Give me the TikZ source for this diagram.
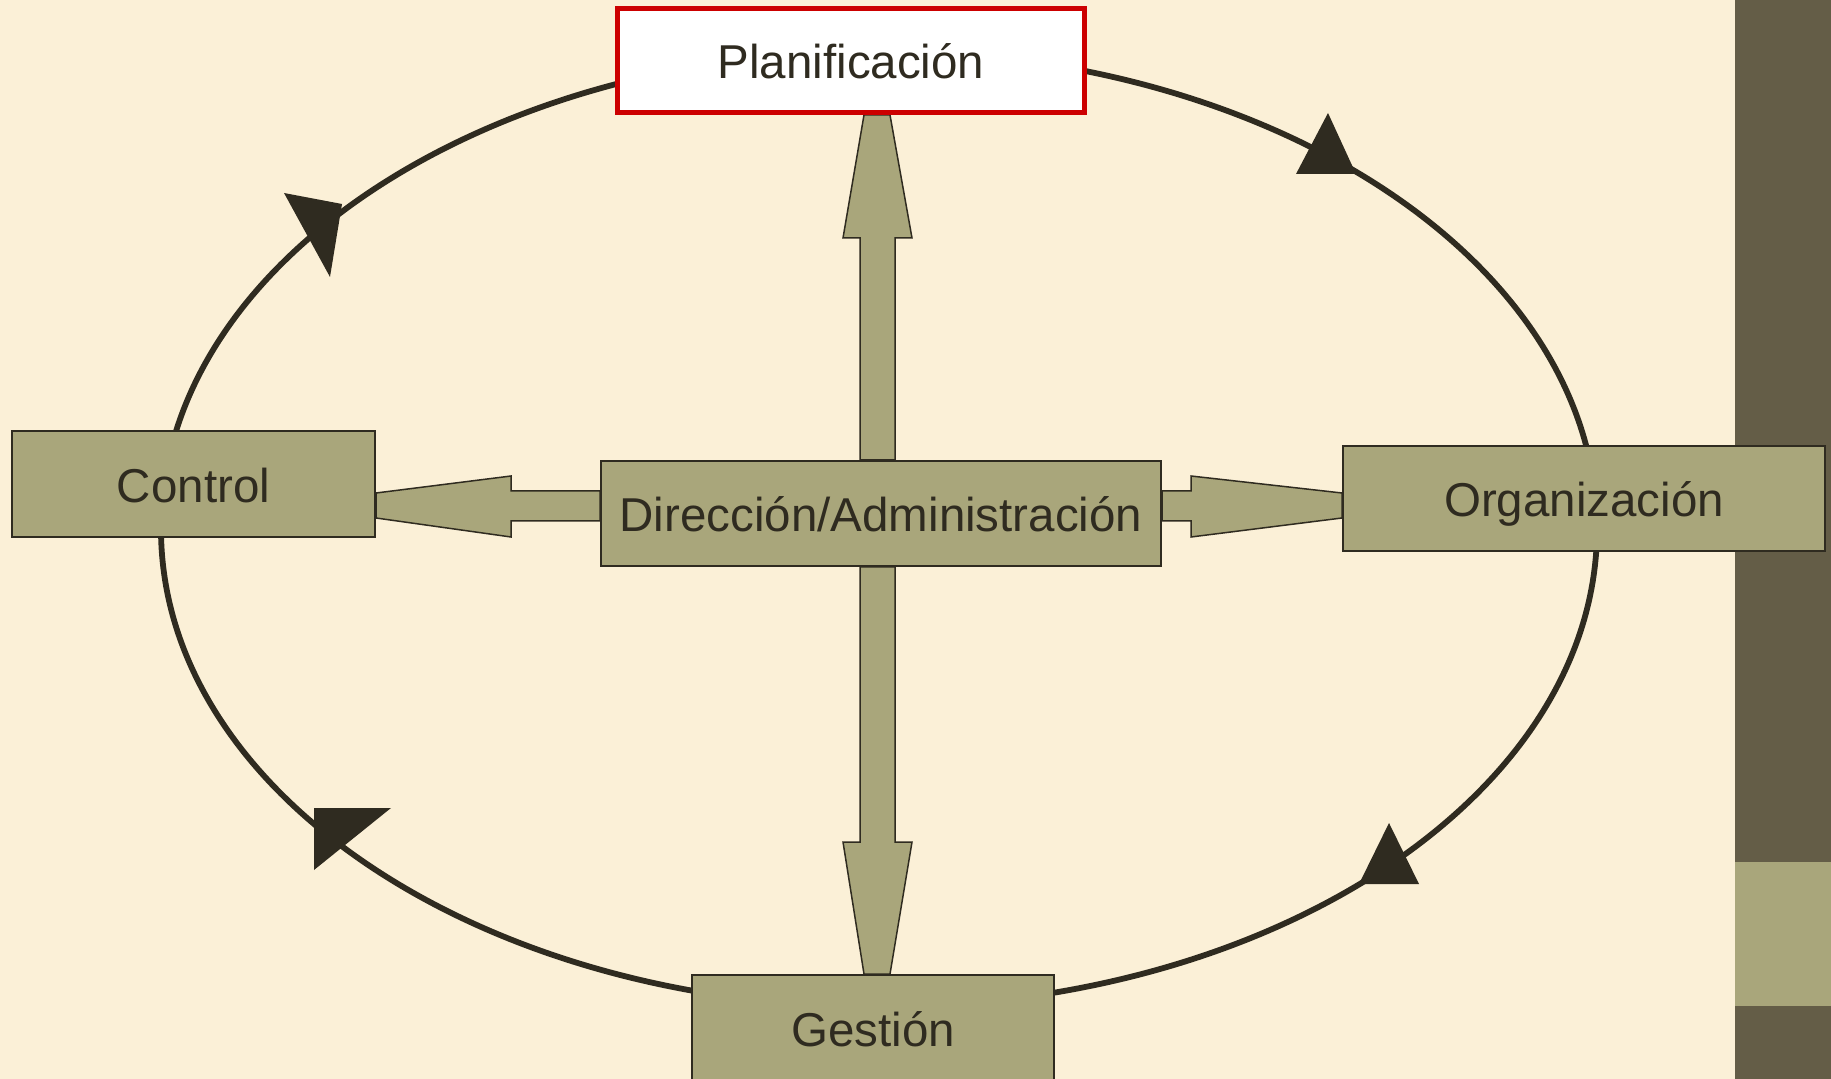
\documentclass[tikz,border=0pt]{standalone}
\usepackage{fontspec}
\setmainfont{Liberation Sans}
\usetikzlibrary{calc}
\definecolor{paper}{HTML}{FBF0D7}
\definecolor{olive}{HTML}{A9A67B}
\definecolor{bark}{HTML}{645D47}
\definecolor{ink}{HTML}{2F2B20}
\definecolor{alert}{HTML}{CC0000}
\tikzset{
  label text/.style={text=ink, inner sep=0pt, text height=20.5pt, text depth=2pt,
    font=\fontsize{23.75}{28}\selectfont},
  box/.style={label text, draw=ink, line width=1pt, fill=olive},
  redbox/.style={label text, draw=alert, line width=2.5pt, fill=white},
  blockarrow/.style={draw=ink, line width=0.75pt, fill=olive, line join=miter},
  cycle line/.style={draw=ink, line width=2.9pt},
  tip/.style={fill=ink}
}
\begin{document}
\begin{tikzpicture}[x=0.5pt,y=-0.5pt]
  % page and side bar
  \fill[paper] (0,0) rectangle (1831,1079);
  \useasboundingbox (0,0) rectangle (1831,1079);
  \fill[bark] (1735,0) rectangle (1831,1079);
  \fill[olive] (1735,862) rectangle (1831,1006);

  % the management cycle
  \draw[cycle line] (879,529) ellipse [x radius=359pt, y radius=239pt];
  \fill[tip] (284,193) -- (342,204) -- (330,277) -- cycle;
  \fill[tip] (1328,113) -- (1296,174) -- (1356,174) -- cycle;
  \fill[tip] (314,808) -- (391,808) -- (314,870) -- cycle;
  \fill[tip] (1389,823) -- (1359,884) -- (1419,884) -- cycle;

  % boxes
  \node[redbox, minimum width=233.5pt, minimum height=52pt] (plan) at (851,60.5) {Planificación};
  \node[box, minimum width=181.5pt, minimum height=53pt] (ctrl) at (193.5,484) {Control};
  \node[box, minimum width=280pt, minimum height=52.5pt] (dir) at (881,513.5) {Dirección/Administración};
  \node[box, minimum width=241pt, minimum height=52.5pt] (org) at (1584,498.5) {Organización};
  \node[box, minimum width=181pt, minimum height=53pt] (gest) at (873,1028) {Gestión};

  % guide lines for the block arrows
  \coordinate (sL) at (860,0);  \coordinate (sR) at (895,0);
  \coordinate (hL) at (843,0);  \coordinate (hR) at (912,0);
  \coordinate (tL) at (864,0);  \coordinate (tR) at (890,0);
  \coordinate (sT) at (0,491);  \coordinate (sB) at (0,521);
  \coordinate (tT) at (0,493);  \coordinate (tB) at (0,518);

  % Dirección -> Planificación
  \draw[blockarrow] (tL |- plan.south) -- (tR |- plan.south) -- (hR |- 0,238)
    -- (sR |- 0,238) -- (sR |- dir.north) -- (sL |- dir.north) -- (sL |- 0,238)
    -- (hL |- 0,238) -- cycle;
  % Dirección -> Gestión
  \draw[blockarrow] (tL |- gest.north) -- (tR |- gest.north) -- (hR |- 0,842)
    -- (sR |- 0,842) -- (sR |- dir.south) -- (sL |- dir.south) -- (sL |- 0,842)
    -- (hL |- 0,842) -- cycle;
  % Dirección -> Control
  \draw[blockarrow] (ctrl.east |- tT) -- (511,476) -- (511,491) -- (dir.west |- sT)
    -- (dir.west |- sB) -- (511,521) -- (511,537) -- (ctrl.east |- tB) -- cycle;
  % Dirección -> Organización
  \draw[blockarrow] (org.west |- tT) -- (1191,476) -- (1191,491) -- (dir.east |- sT)
    -- (dir.east |- sB) -- (1191,521) -- (1191,537) -- (org.west |- tB) -- cycle;

  % redraw boxes on top of the arrows
  \node[redbox, minimum width=233.5pt, minimum height=52pt] at (plan) {Planificación};
  \node[box, minimum width=280pt, minimum height=52.5pt] at (dir) {Dirección/Administración};
\end{tikzpicture}
\end{document}
